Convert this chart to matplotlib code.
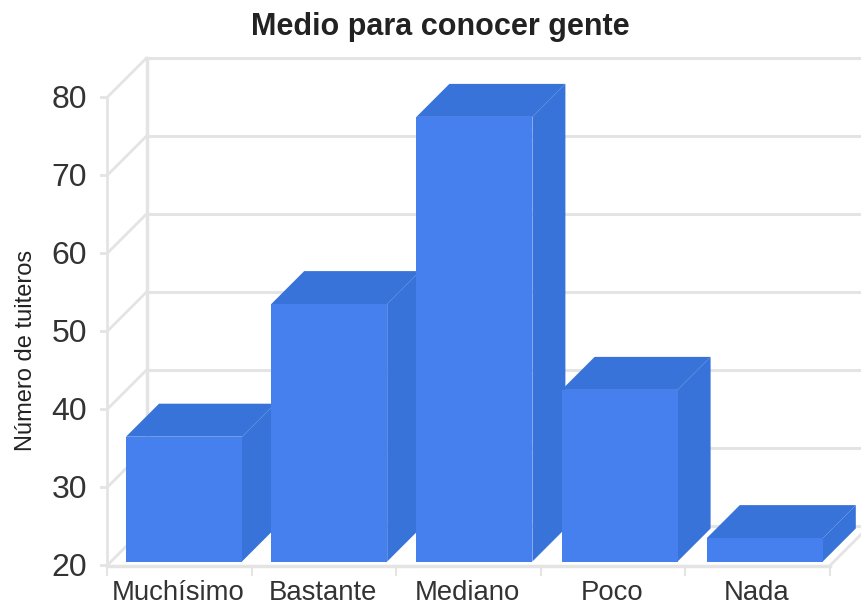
import matplotlib
matplotlib.use('Agg')
import matplotlib.pyplot as plt
from matplotlib.patches import Polygon

categorias = ['Muchísimo', 'Bastante', 'Mediano', 'Poco', 'Nada']
valores = [36, 53, 77, 42, 23]
ticks_y = [20, 30, 40, 50, 60, 70, 80]

plt.rcParams['font.family'] = ['Liberation Sans', 'DejaVu Sans']

W, H = 861, 608
fig = plt.figure(figsize=(W / 100, H / 100), dpi=100)
# the axes are the front plane of the 3d box
ax = fig.add_axes([107 / W, 1 - 565.5 / H, 723 / W, 468 / H])
ax.set_xlim(0, 5)
ax.set_ylim(20, 80)
ax.axis('off')

px_x = 5 / 723
px_y = 60 / 468
gris = '#e4e4e4'
frente = '#4580ee'
oscuro = '#3873d9'
texto = '#333333'

# walls: gridlines go back, then across to the edge of the picture
prof_x = 40 * px_x
prof_y = 40 * px_y
fin_x = (W - 107) * px_x
for v in ticks_y:
    ax.plot([-7 * px_x, 0, prof_x], [v, v, v + prof_y], color=gris, lw=2, clip_on=False, zorder=1, solid_capstyle='butt')
    ax.plot([prof_x, fin_x], [v + prof_y, v + prof_y], color=gris, lw=2.2, clip_on=False, zorder=1)
    ax.text(-20 * px_x, v - 3 * px_y, str(v), ha='right', va='center', fontsize=23, color=texto)
ax.plot([0, 0], [20, 80], color=gris, lw=2, clip_on=False, zorder=1)
ax.plot([prof_x, prof_x], [20 + prof_y, 80 + prof_y], color=gris, lw=2.5, clip_on=False, zorder=1)

# floor
ax.plot([0, 5], [20, 20], color=gris, lw=2.5, clip_on=False, zorder=1)
ax.plot([5, 5 + 31 * px_x], [20, 20 + 31 * px_y], color=gris, lw=2, clip_on=False, zorder=1)
for i in range(6):
    ax.plot([i, i], [20, 20 - 9 * px_y], color=gris, lw=1.5, clip_on=False, zorder=1)
for i, c in enumerate(categorias):
    ax.text(i + 0.495, 20 - 28 * px_y, c, ha='center', va='center', fontsize=19.8, color=texto)

# bars, left to right so each front covers the side of the previous one
ancho = 116 * px_x
margen = 19 * px_x
paso = 145.2 * px_x
d_x = 33 * px_x
d_y = 33 * px_y
base = 20 + 4 * px_y
for i, v in enumerate(valores):
    x0 = margen + i * paso
    x1 = x0 + ancho
    top = v + 4 * px_y
    z = 2 + i
    ax.add_patch(Polygon([(x1, base), (x1 + d_x, base + d_y), (x1 + d_x, top + d_y), (x1, top)],
                         fc=oscuro, ec='none', clip_on=False, zorder=z))
    ax.add_patch(Polygon([(x0, top), (x0 + d_x, top + d_y), (x1 + d_x, top + d_y), (x1, top)],
                         fc=oscuro, ec='none', clip_on=False, zorder=z))
    ax.add_patch(Polygon([(x0, base), (x1, base), (x1, top), (x0, top)],
                         fc=frente, ec='none', clip_on=False, zorder=z))

fig.text(440 / W, 1 - 27 / H, 'Medio para conocer gente', ha='center', va='center',
         fontsize=22, fontweight='bold', color='#222222')
fig.text(26 / W, 1 - 350 / H, 'Número de tuiteros', ha='center', va='center',
         rotation=90, fontsize=17, color='#222222')

fig.savefig('out.png', dpi=100)
